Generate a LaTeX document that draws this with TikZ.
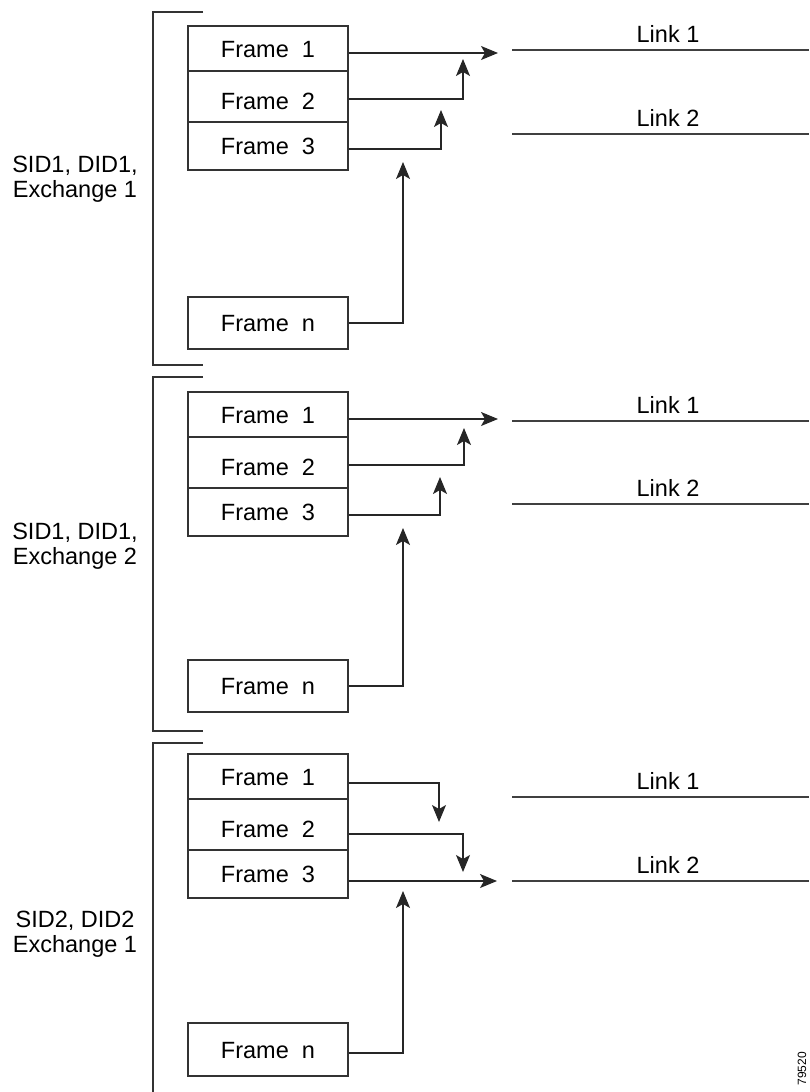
\documentclass[tikz,border=0pt]{standalone}
\usepackage{fontspec}
\setmainfont{Liberation Sans}
\usetikzlibrary{arrows.meta}
\begin{document}
\begin{tikzpicture}[x=1pt, y=-1pt, line width=1.1pt,
  every node/.style={font=\fontsize{23.5}{25}\selectfont, inner sep=0pt},
  frame/.style={draw=black!80, rectangle, minimum width=160pt, text height=17pt, text depth=0pt},
  conn/.style={draw=black!85, -{Stealth[length=17pt,width=14pt,inset=4pt]}},
  link/.style={draw=black!75},
  brace/.style={draw=black!80}]
\useasboundingbox (0,0) rectangle (809,1092);
% exchange 1
\draw[brace] (203,12) -- (153,12) -- (153,365) -- (203,365);
\node[align=center, anchor=north] (s1lab) at (75,156) {SID1, DID1,\\Exchange 1};
\node[frame, minimum height=45pt] (s1f1) at (268,48.5) {Frame~~1};
\node[frame, minimum height=51pt, text height=25pt] (s1f2) at (268,96.5) {Frame~~2};
\node[frame, minimum height=48pt] (s1f3) at (268,146) {Frame~~3};
\node[frame, minimum height=52pt] (s1fn) at (268,323) {Frame~~n};
\coordinate (s1t1) at (498,53);
\coordinate (s1b2) at (463,99);
\coordinate (s1t2) at (463,59);
\coordinate (s1b3) at (441,149);
\coordinate (s1t3) at (441,110);
\coordinate (s1bn) at (403,323);
\coordinate (s1tn) at (403,162);
\draw[conn] (s1f1.east |- s1t1) -- (s1t1);
\draw[conn] (s1f2.east |- s1b2) -- (s1b2) -- (s1t2);
\draw[conn] (s1f3.east |- s1b3) -- (s1b3) -- (s1t3);
\draw[conn] (s1fn.east |- s1bn) -- (s1bn) -- (s1tn);
\coordinate (s1l1a) at (512,50);
\coordinate (s1l1b) at (809,50);
\coordinate (s1l2a) at (512,134);
\coordinate (s1l2b) at (809,134);
\draw[link] (s1l1a) -- (s1l1b);
\draw[link] (s1l2a) -- (s1l2b);
\node[anchor=base] (s1k1) at (668,42) {Link 1};
\node[anchor=base] (s1k2) at (668,126) {Link 2};
% exchange 2
\draw[brace] (203,377) -- (153,377) -- (153,731) -- (203,731);
\node[align=center, anchor=north] (s2lab) at (75,523) {SID1, DID1,\\Exchange 2};
\node[frame, minimum height=45pt] (s2f1) at (268,414.5) {Frame~~1};
\node[frame, minimum height=51pt, text height=25pt] (s2f2) at (268,462.5) {Frame~~2};
\node[frame, minimum height=48pt] (s2f3) at (268,512) {Frame~~3};
\node[frame, minimum height=52pt] (s2fn) at (268,686) {Frame~~n};
\coordinate (s2t1) at (498,419);
\coordinate (s2b2) at (464,465);
\coordinate (s2t2) at (464,428);
\coordinate (s2b3) at (440,515);
\coordinate (s2t3) at (440,477);
\coordinate (s2bn) at (403,686);
\coordinate (s2tn) at (403,528);
\draw[conn] (s2f1.east |- s2t1) -- (s2t1);
\draw[conn] (s2f2.east |- s2b2) -- (s2b2) -- (s2t2);
\draw[conn] (s2f3.east |- s2b3) -- (s2b3) -- (s2t3);
\draw[conn] (s2fn.east |- s2bn) -- (s2bn) -- (s2tn);
\coordinate (s2l1a) at (512,421);
\coordinate (s2l1b) at (809,421);
\coordinate (s2l2a) at (512,504);
\coordinate (s2l2b) at (809,504);
\draw[link] (s2l1a) -- (s2l1b);
\draw[link] (s2l2a) -- (s2l2b);
\node[anchor=base] (s2k1) at (668,413) {Link 1};
\node[anchor=base] (s2k2) at (668,496) {Link 2};
% exchange 1, second pair
\draw[brace] (203,743) -- (153,743) -- (153,1095);
\node[align=center, anchor=north] (s3lab) at (75,911) {SID2, DID2\\Exchange 1};
\node[frame, minimum height=45pt] (s3f1) at (268,776.5) {Frame~~1};
\node[frame, minimum height=51pt, text height=25pt] (s3f2) at (268,824.5) {Frame~~2};
\node[frame, minimum height=48pt] (s3f3) at (268,874) {Frame~~3};
\node[frame, minimum height=53pt] (s3fn) at (268,1049.5) {Frame~~n};
\coordinate (s3b1) at (439,783);
\coordinate (s3t1) at (439,822);
\coordinate (s3b2) at (463,834);
\coordinate (s3t2) at (463,872);
\coordinate (s3t3) at (497,881);
\coordinate (s3bn) at (403,1053);
\coordinate (s3tn) at (403,891);
\draw[conn] (s3f1.east |- s3b1) -- (s3b1) -- (s3t1);
\draw[conn] (s3f2.east |- s3b2) -- (s3b2) -- (s3t2);
\draw[conn] (s3f3.east |- s3t3) -- (s3t3);
\draw[conn] (s3fn.east |- s3bn) -- (s3bn) -- (s3tn);
\coordinate (s3l1a) at (512,797);
\coordinate (s3l1b) at (809,797);
\coordinate (s3l2a) at (512,881);
\coordinate (s3l2b) at (809,881);
\draw[link] (s3l1a) -- (s3l1b);
\draw[link] (s3l2a) -- (s3l2b);
\node[anchor=base] (s3k1) at (668,789) {Link 1};
\node[anchor=base] (s3k2) at (668,873) {Link 2};
% figure number
\node[rotate=90, anchor=base west, font=\fontsize{12}{14}\selectfont] (fignum) at (806,1086) {79520};
\end{tikzpicture}
\end{document}
